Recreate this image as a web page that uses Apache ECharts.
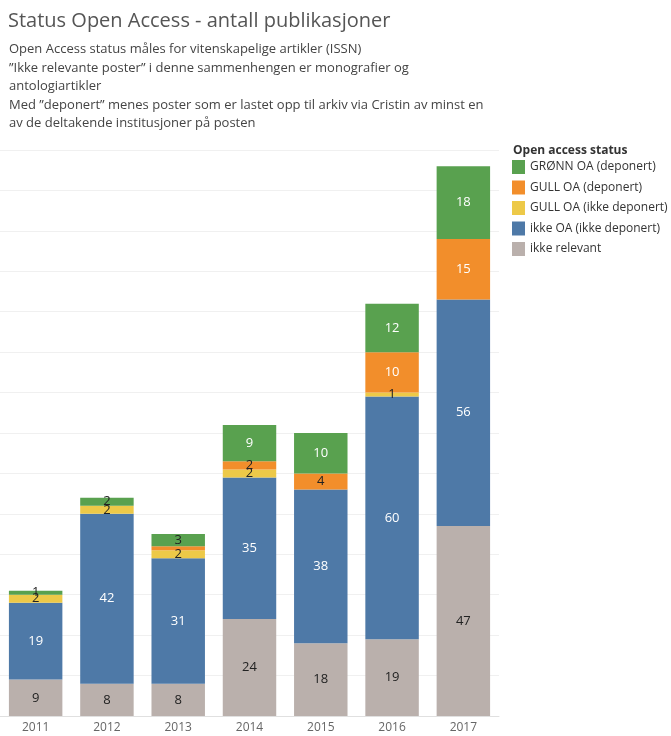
<!DOCTYPE html>
<html><head><meta charset="utf-8">
<script src="https://cdn.jsdelivr.net/npm/echarts@6/dist/echarts.min.js"></script>
<style>html,body{margin:0;padding:0;background:#fff}#c{width:671px;height:736px}</style>
</head><body><div id="c"></div>
<script>
const years = ['2011','2012','2013','2014','2015','2016','2017'];
const ikkeRelevant = [9, 8, 8, 24, 18, 19, 47];
const ikkeOA = [19, 42, 31, 35, 38, 60, 56];
const gullIkkeDep = [2, 2, 2, 2, 0, 1, 0];
const gullDep = [0, 0, 1, 2, 4, 10, 15];
const gronnDep = [1, 2, 3, 9, 10, 12, 18];
const hiddenLabels = {'GULL OA (deponert)': ['2013']};

const seriesDefs = [
  {name: 'ikke relevant', data: ikkeRelevant, color: '#BAB0AC', dark: true},
  {name: 'ikke OA (ikke deponert)', data: ikkeOA, color: '#4E79A7'},
  {name: 'GULL OA (ikke deponert)', data: gullIkkeDep, color: '#EDC948'},
  {name: 'GULL OA (deponert)', data: gullDep, color: '#F28E2B'},
  {name: 'GRØNN OA (deponert)', data: gronnDep, color: '#59A14F'}
];
const FONT = '"Open Sans", "Noto Sans", sans-serif';
const series = seriesDefs.map(s => ({
  name: s.name, type: 'bar', stack: 'all', barWidth: '75%',
  itemStyle: {color: s.color},
  data: s.data.map((v, i) => {
    const hide = v === 0 || (hiddenLabels[s.name] || []).includes(years[i]);
    return {value: v, label: {show: !hide, color: (s.dark || v < 9) ? '#222' : '#fff'}};
  }),
  label: {position: 'inside', fontSize: 13, fontFamily: FONT},
  emphasis: {disabled: true}
}));

const chart = echarts.init(document.getElementById('c'), null, {renderer: 'canvas'});
chart.setOption({
  animation: false,
  title: [
    {text: 'Status Open Access - antall publikasjoner', left: 3, top: 6,
     textStyle: {fontFamily: FONT, fontSize: 20, fontWeight: 'normal', color: '#555'}},
    {text: 'Open Access status måles for vitenskapelige artikler (ISSN)\n”Ikke relevante poster” i denne sammenhengen er monografier og\nantologiartikler\nMed ”deponert” menes poster som er lastet opp til arkiv via Cristin av minst en\nav de deltakende institusjoner på posten',
     left: 4, top: 35,
     textStyle: {fontFamily: FONT, fontSize: 13, fontWeight: 'normal', color: '#444', lineHeight: 18.6}},
    {text: 'Open access status', left: 508, top: 140,
     textStyle: {fontFamily: FONT, fontSize: 12, fontWeight: 'bold', color: '#333'}}
  ],
  legend: {
    orient: 'vertical', left: 507, top: 155, icon: 'rect',
    itemWidth: 13, itemHeight: 14, itemGap: 6.5,
    data: ['GRØNN OA (deponert)', 'GULL OA (deponert)', 'GULL OA (ikke deponert)', 'ikke OA (ikke deponert)', 'ikke relevant'],
    textStyle: {fontFamily: FONT, fontSize: 12, color: '#333'},
    selectedMode: false
  },
  grid: {left: 0, width: 499, top: 150, bottom: 20, containLabel: false},
  xAxis: {
    type: 'category', data: years,
    axisLine: {lineStyle: {color: '#e0e0e0'}}, axisTick: {show: false},
    axisLabel: {color: '#666', fontFamily: FONT, fontSize: 12, margin: 6}
  },
  yAxis: {
    type: 'value', min: 0, max: 140, interval: 10,
    axisLabel: {show: false}, axisLine: {show: false}, axisTick: {show: false},
    splitLine: {lineStyle: {color: '#f0f0f0'}}
  },
  series: series
});
</script></body></html>
